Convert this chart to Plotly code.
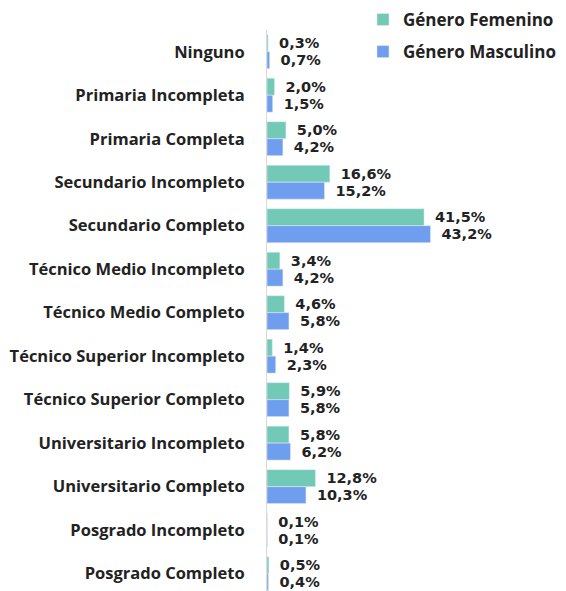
import plotly.graph_objects as go

categories = ["Ninguno", "Primaria Incompleta", "Primaria Completa", "Secundario Incompleto",
              "Secundario Completo", "Técnico Medio Incompleto", "Técnico Medio Completo",
              "Técnico Superior Incompleto", "Técnico Superior Completo", "Universitario Incompleto",
              "Universitario Completo", "Posgrado Incompleto", "Posgrado Completo"]
femenino = [0.3, 2.0, 5.0, 16.6, 41.5, 3.4, 4.6, 1.4, 5.9, 5.8, 12.8, 0.1, 0.5]
masculino = [0.7, 1.5, 4.2, 15.2, 43.2, 4.2, 5.8, 2.3, 5.8, 6.2, 10.3, 0.1, 0.4]

def fmt(v):
    return " \u2009" + f"{v:.1f}".replace(".", ",") + "%"

FONT = "Open Sans"
VFONT = dict(family="DejaVu Sans", size=14.5, color="#222222", weight="bold")
fig = go.Figure()
fig.add_trace(go.Bar(y=categories, x=femenino, orientation="h", name="Género Femenino",
                     marker_color="#72C9B6", text=[fmt(v) for v in femenino],
                     textposition="outside", cliponaxis=False, legendgroup="f",
                     textfont=VFONT))
fig.add_trace(go.Bar(y=categories, x=masculino, orientation="h", name="Género Masculino",
                     marker_color="#6F9EEE", text=[fmt(v) for v in masculino],
                     textposition="outside", cliponaxis=False, legendgroup="m",
                     textfont=VFONT))

fig.update_layout(
    width=566, height=591,
    margin=dict(l=267, r=0, t=30, b=0),
    paper_bgcolor="white", plot_bgcolor="white",
    barmode="group", bargap=0.22, bargroupgap=0,
    xaxis=dict(range=[0, 79], visible=False),
    yaxis=dict(range=[12.4, -0.5], showline=True, linecolor="#D9D9D9", linewidth=1,
               ticks="", ticklabelstandoff=18, showgrid=False,
               tickfont=dict(family=FONT, size=16.5, color="#222222", weight="bold")),
    legend=dict(x=0.321, y=1.05, xanchor="left", yanchor="top", traceorder="grouped",
                tracegroupgap=7, bgcolor="rgba(0,0,0,0)",
                font=dict(family=FONT, size=17, color="#222222", weight="bold"),
                itemwidth=30),
    showlegend=True,
)
fig.write_html("out.html", config={"displayModeBar": False},
               post_script="document.body.style.margin='0';")
